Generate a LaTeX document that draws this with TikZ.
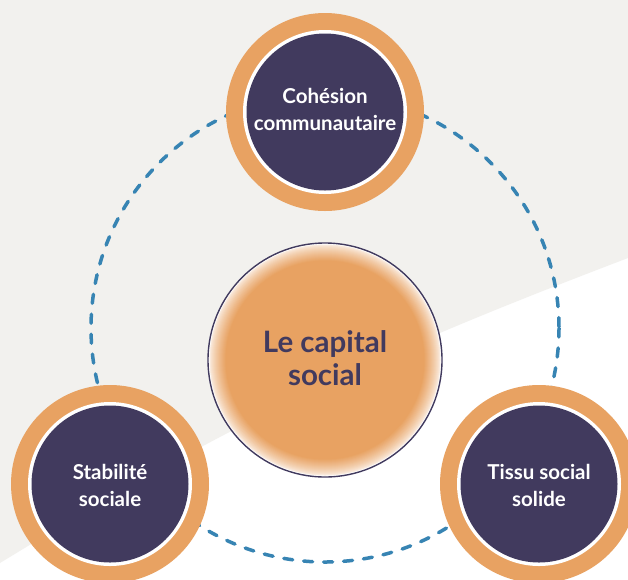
\documentclass[tikz,border=0pt]{standalone}
\usepackage{fontspec}
\setmainfont{Lato}
\definecolor{bggray}{HTML}{F2F1EE}
\definecolor{orng}{HTML}{E8A262}
\definecolor{darkp}{HTML}{413A5E}
\definecolor{dashblue}{HTML}{3784B3}
\tikzset{
  ringouter/.style={circle, fill=orng, minimum size=198pt, inner sep=0pt},
  ringwhite/.style={circle, fill=white, minimum size=164pt, inner sep=0pt},
  ringdark/.style={circle, fill=darkp, minimum size=157pt, inner sep=0pt},
  smalltext/.style={text=white, align=center, font=\bfseries\fontsize{20.5}{27}\selectfont},
  bigtext/.style={text=darkp, align=center, font=\bfseries\fontsize{29.5}{33}\selectfont},
  dashring/.style={draw=dashblue, line width=3.5pt, dash pattern=on 9pt off 11pt, line cap=round}
}
\begin{document}
\begin{tikzpicture}[x=1pt,y=-1pt]
\useasboundingbox (0,0) rectangle (628,579);
\fill[white] (0,0) rectangle (628,579);
\fill[bggray] (0,0) -- (628,0) -- (628,258) .. controls (400,345) and (250,410) .. (0,563) -- cycle;
% dashed ring
\coordinate (ringc) at (325,328);
\draw[dashring] (ringc) circle[radius=234];
% center circle
\node[circle, fill=white, draw=darkp, line width=1.4pt, minimum size=234pt, inner sep=0pt] (core) at (325,360) {};
\foreach \i in {0,...,16}{
  \pgfmathsetmacro{\pct}{20+80*(\i/16)^0.8}
  \fill[orng!\pct!white] (core.center) circle[radius=115.5-\i];
}
\node[bigtext] (coretxt) at (325,358) {Le capital\\social};
% top
\node[ringouter] (topo) at (325,112) {};
\node[ringwhite] (topw) at (topo) {};
\node[ringdark] (topd) at (topo) {};
\node[smalltext] (toptxt) at (325,109) {Cohésion\\communautaire};
% bottom left
\node[ringouter] (blo) at (110,484) {};
\node[ringwhite] (blw) at (blo) {};
\node[ringdark] (bld) at (blo) {};
\node[smalltext] (bltxt) at (110,485) {Stabilité\\sociale};
% bottom right
\node[ringouter] (bro) at (539,484) {};
\node[ringwhite] (brw) at (bro) {};
\node[ringdark] (brd) at (bro) {};
\node[smalltext] (brtxt) at (539,485) {Tissu social\\solide};
\end{tikzpicture}
\end{document}
